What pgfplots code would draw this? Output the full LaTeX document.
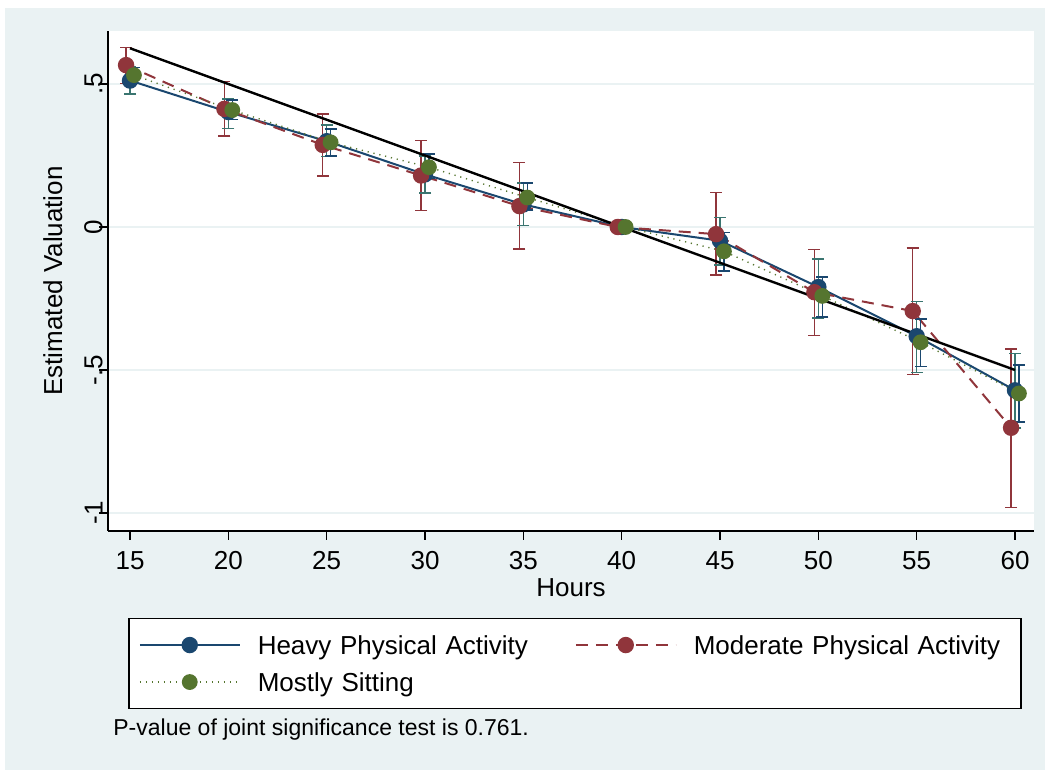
\documentclass[border=0pt]{standalone}
\usepackage{fontspec}
\setmainfont{Liberation Sans}
\usepackage{pgfplots}
\usepackage{pgfplotstable}
\pgfplotsset{compat=1.18}

\definecolor{statabg}{HTML}{EAF2F3}
\definecolor{snavy}{HTML}{1A476F}
\definecolor{smaroon}{HTML}{90353B}
\definecolor{sgreen}{HTML}{55752F}
\definecolor{steal}{HTML}{3A7570}

% point estimates (x shifted a little per group, as in the figure)
\pgfplotstableread{
x y
15 0.512
20 0.402
25 0.300
30 0.184
35 0.079
40 0.000
45 -0.048
50 -0.210
55 -0.382
60 -0.571
}\heavy
\pgfplotstableread{
x y
14.8 0.566
19.8 0.413
24.8 0.287
29.8 0.180
34.8 0.073
39.8 0.000
44.8 -0.025
49.8 -0.228
54.8 -0.294
59.8 -0.702
}\moderate
\pgfplotstableread{
x y
15.2 0.531
20.2 0.409
25.2 0.296
30.2 0.209
35.2 0.103
40.2 0.000
45.2 -0.085
50.2 -0.241
55.2 -0.403
60.2 -0.582
}\sitting

% confidence intervals: centre c, half width e
\pgfplotstableread{
x c e
15 0.5125 0.0475
20 0.3965 0.0515
25 0.3015 0.0555
30 0.1835 0.0655
35 0.0790 0.0740
45 -0.0500 0.0830
50 -0.2155 0.1035
55 -0.3845 0.1235
60 -0.5720 0.1300
}\heavyci
\pgfplotstableread{
x c e
14.8 0.5650 0.0630
19.8 0.4130 0.0950
24.8 0.2870 0.1080
29.8 0.1795 0.1225
34.8 0.0740 0.1510
44.8 -0.0235 0.1445
49.8 -0.2290 0.1510
54.8 -0.2940 0.2210
59.8 -0.7035 0.2765
}\moderateci
\pgfplotstableread{
x c e
15.2 0.5300 0.0280
20.2 0.4100 0.0340
25.2 0.2950 0.0470
30.2 0.2125 0.0425
35.2 0.1060 0.0470
45.2 -0.0860 0.0670
50.2 -0.2440 0.0700
55.2 -0.4050 0.0830
60.2 -0.5820 0.0990
}\sittingci

\pgfplotsset{
  cibar/.style={draw=none, mark=none, forget plot,
    error bars/.cd, y dir=both, y explicit,
    error bar style={draw=#1, line width=0.75pt},
    error mark options={rotate=90, mark size=3pt, draw=#1, line width=0.75pt}},
}

\begin{document}
\begin{tikzpicture}
\path[use as bounding box] (0,0) rectangle (524.5pt,385pt);
\fill[white] (0,0) rectangle (524.5pt,385pt);
\fill[statabg] (2.5pt,0pt) rectangle (522.5pt,381pt);

\begin{axis}[
    at={(54pt,119.5pt)}, anchor=south west,
    scale only axis,
    width=463pt, height=250pt,
    xmin=13.881, xmax=60.966,
    ymin=-1.0629, ymax=0.6853,
    axis lines*=left,
    axis line style={black, line width=0.8pt},
    axis background/.style={fill=white},
    tick align=outside,
    major tick length=4.5pt,
    every tick/.style={black, line width=0.8pt},
    xtick={15,20,...,60},
    ytick={-1,-0.5,0,0.5},
    yticklabels={-1,-.5,0,.5},
    ymajorgrids,
    grid style={statabg, line width=1pt},
    /pgf/number format/assume math mode=true,
    tick label style={font=\fontsize{13}{15}\selectfont, inner sep=0pt},
    x tick label style={anchor=north, yshift=-5.5pt},
    y tick label style={rotate=90, anchor=south, yshift=-2pt},
    xlabel={Hours},
    ylabel={Estimated Valuation},
    label style={font=\fontsize{13}{15}\selectfont, inner sep=0pt},
    xlabel style={at={(axis description cs:0.5,0)}, anchor=base, yshift=-33pt},
    ylabel style={at={(axis description cs:0,0.5)}, anchor=base, yshift=23pt},
    legend columns=2,
    legend cell align=left,
    legend image code/.code={
      \draw[mark repeat=2, mark phase=2, #1]
        plot coordinates {(0pt,0pt) (25pt,0pt) (50pt,0pt)};
      \path (58.5pt,0pt);
    },
    legend style={
      at={(0.0216,-0.174)}, anchor=north west,
      draw=black, line width=0.75pt, fill=white,
      font=\fontsize{13}{15}\selectfont,
      inner xsep=5pt, inner ysep=8.5pt,
      row sep=9.2pt, column sep=0pt,
      nodes={inner sep=0pt, text height=9.3pt, text depth=0pt, text width=158.5pt, align=left},
    },
]

\addplot[snavy, line width=1pt, mark=*, mark size=3.6pt,
  mark options={solid, fill=snavy, draw=snavy}] table[x=x, y=y] {\heavy};
\addlegendentry{Heavy Physical Activity}

\addplot[smaroon, line width=1pt, dash pattern=on 6pt off 4pt, mark=*, mark size=3.6pt,
  mark options={solid, fill=smaroon, draw=smaroon}] table[x=x, y=y] {\moderate};
\addlegendentry{Moderate Physical Activity}

\addplot[sgreen, line width=0.7pt, dash pattern=on 0.6pt off 2.4pt, mark=*, mark size=3.6pt,
  mark options={solid, fill=sgreen, draw=sgreen}] table[x=x, y=y] {\sitting};
\addlegendentry{Mostly Sitting}

\addplot[cibar=smaroon] table[x=x, y=c, y error=e] {\moderateci};
\addplot[cibar=steal] table[x=x, y=c, y error=e] {\heavyci};
\addplot[cibar=snavy] table[x=x, y=c, y error=e] {\sittingci};

\addplot[black, line width=1.2pt, mark=none, forget plot] coordinates {(15,0.625) (60,-0.5)};
\end{axis}

\node[anchor=base west, inner sep=0pt, font=\fontsize{11.5}{13}\selectfont]
  at (56.5pt,17pt) {P-value of joint significance test is 0.761.};
\end{tikzpicture}
\end{document}
